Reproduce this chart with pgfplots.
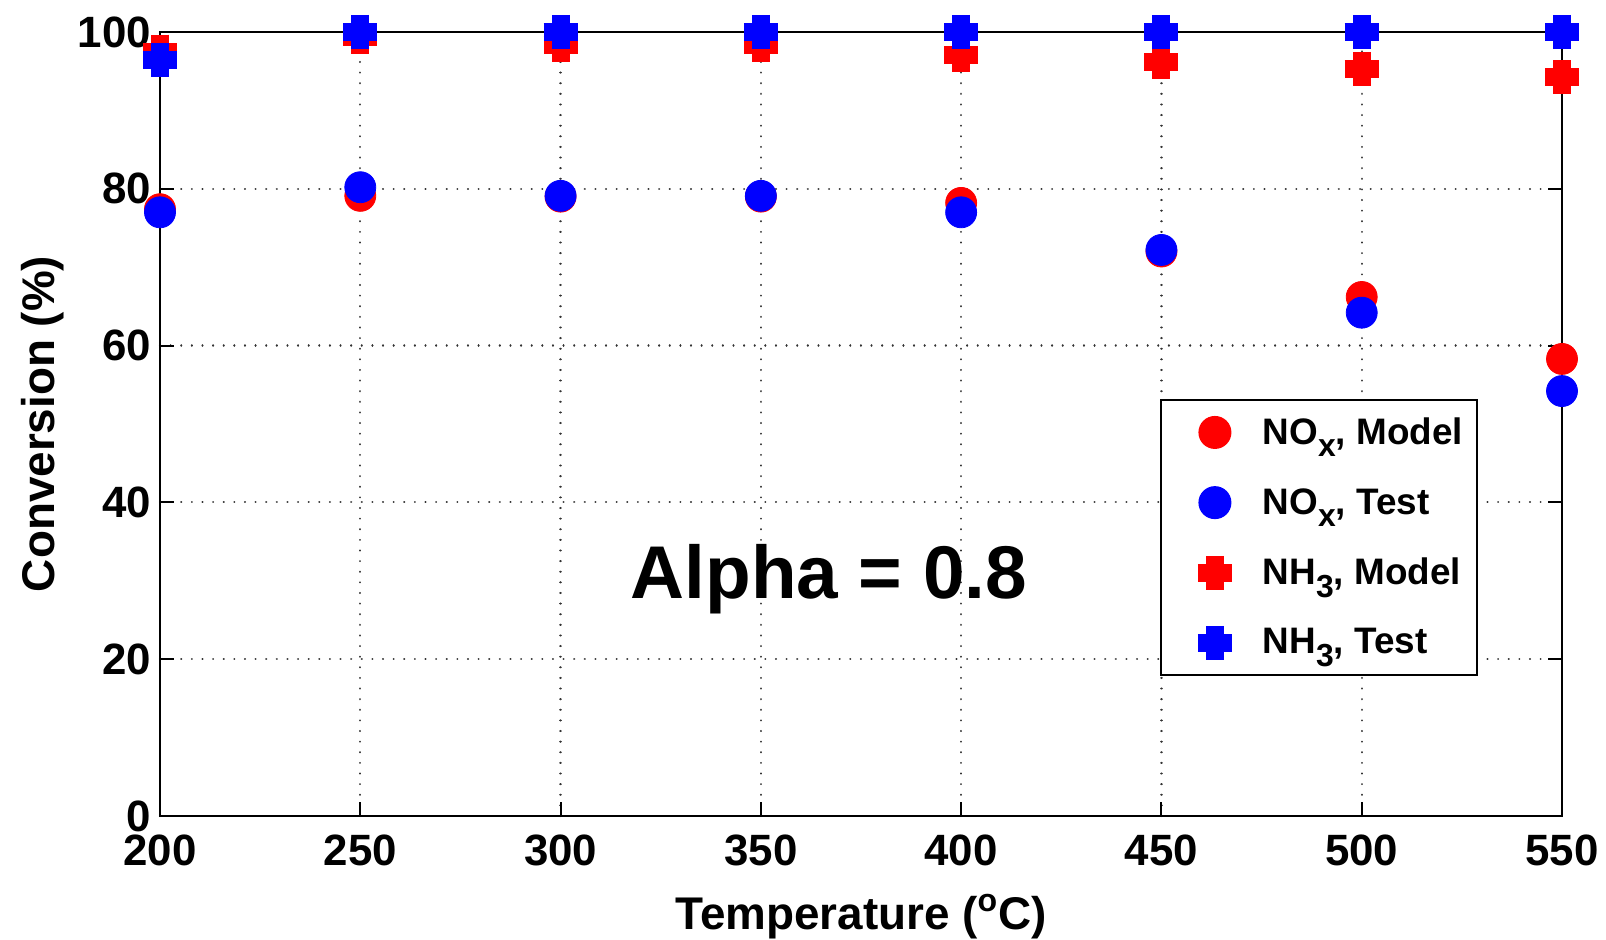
\documentclass[border=0pt]{standalone}
\usepackage{pgfplots}
\pgfplotsset{compat=1.18}
\usepackage{fontspec}
\setmainfont{Liberation Sans}
\newcommand\sub[1]{\raisebox{-0.65ex}{\fontsize{16}{16}\selectfont #1}}
\pgfplotsset{myimg/.style={legend image code/.code={\path[draw=none,fill=none] (0bp,-1bp) rectangle (44bp,1bp); \draw[##1,mark repeat=2,mark phase=2] plot coordinates {(0bp,0bp) (22bp,0bp) (44bp,0bp)};}}}
\begin{document}
\begin{tikzpicture}
\begin{axis}[
  scale only axis,
  width=701bp, height=392bp,
  xmin=200, xmax=550, ymin=0, ymax=100,
  xtick={200,250,...,550}, ytick={0,20,...,100},
  axis line style={line width=1bp},
  tick style={line width=1bp, black},
  major tick length=7bp,
  tick align=inside,
  grid=major,
  major grid style={black!80, line width=1.1bp, dash pattern=on 0.01bp off 5.3bp, line cap=round},
  clip=false,
  /pgf/number format/assume math mode=true,
  ticklabel style={font=\fontsize{22}{22}\selectfont\bfseries},
  xticklabel style={yshift=-6bp},
  yticklabel style={xshift=-1bp},
  label style={font=\fontsize{23}{23}\selectfont\bfseries},
  xlabel={Temperature (\textsuperscript{o}C)},
  ylabel={Conversion (\%)},
  xlabel style={yshift=-7bp},
  ylabel style={yshift=0bp},
  legend style={at={(rel axis cs:0.940,0.1786)}, anchor=south east, draw=black, line width=1bp,
    font=\fontsize{18.5}{18.5}\selectfont\bfseries, row sep=16.5bp, inner xsep=5bp, inner ysep=7bp},
  legend cell align=left,
]
\addplot[only marks, myimg, mark=*, color=red, mark size=7.75bp] coordinates {
 (200,77.4) (250,79.1) (300,79.0) (350,79.0) (400,78.2) (450,72.0) (500,66.2) (550,58.3)};
\addlegendentry{NO\sub{x}, Model}
\addplot[only marks, myimg, mark=*, color=blue, mark size=7.75bp] coordinates {
 (200,77.0) (250,80.2) (300,79.1) (350,79.1) (400,77.0) (450,72.2) (500,64.2) (550,54.2)};
\addlegendentry{NO\sub{x}, Test}
\addplot[only marks, myimg, mark=+, color=red, mark size=8.5bp, mark options={line width=9bp}] coordinates {
 (200,97.5) (250,99.3) (300,98.3) (350,98.3) (400,97.1) (450,96.2) (500,95.3) (550,94.2)};
\addlegendentry{NH\sub{3}, Model}
\addplot[only marks, myimg, mark=+, color=blue, mark size=8.5bp, mark options={line width=9bp}] coordinates {
 (200,96.4) (250,100) (300,100) (350,100) (400,100) (450,100) (500,100) (550,100)};
\addlegendentry{NH\sub{3}, Test}
\node[font=\fontsize{37.5}{37.5}\selectfont\bfseries] at (axis cs:367,30.2) {Alpha = 0.8};
\end{axis}
\pgfresetboundingbox
\path[use as bounding box] (-80bp,-62bp) rectangle (723bp,408bp);
\end{tikzpicture}
\end{document}
